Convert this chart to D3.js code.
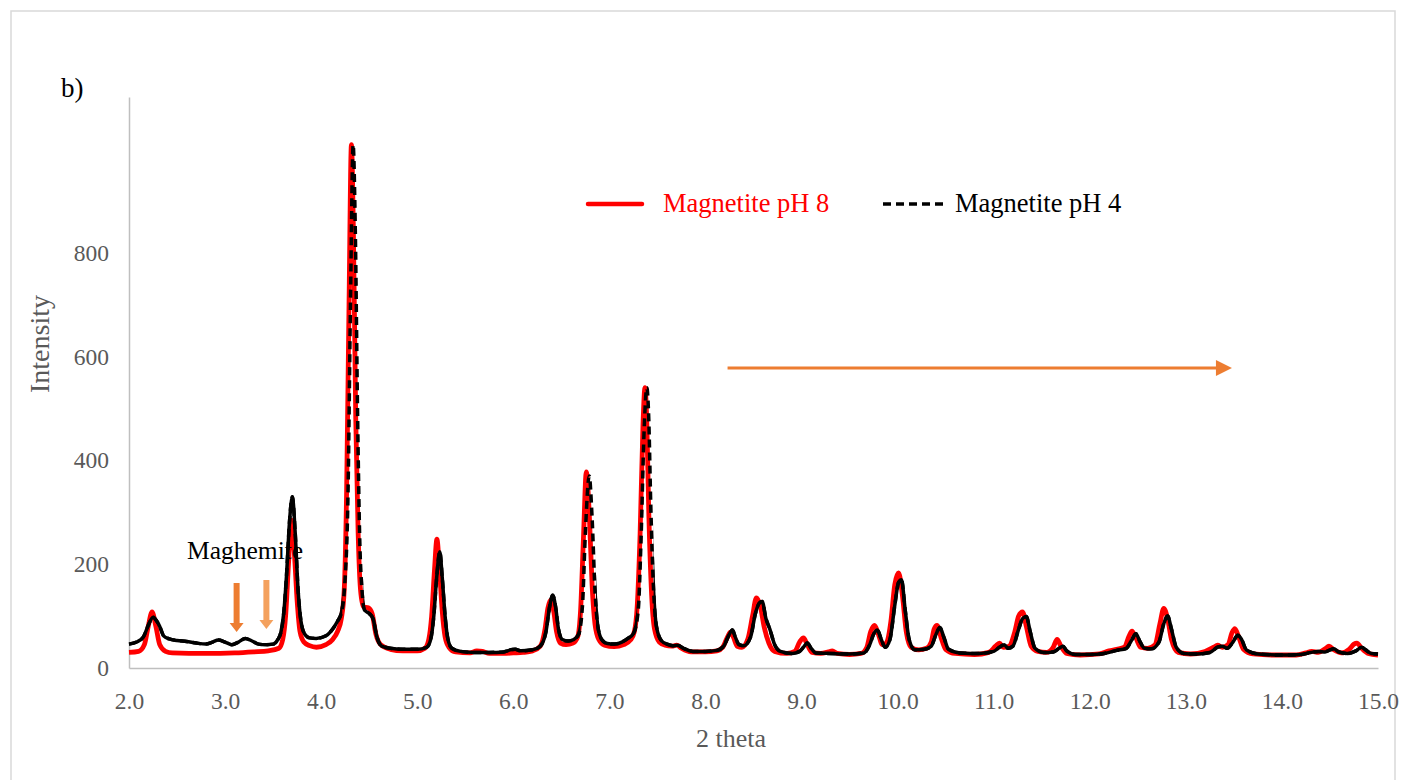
<!DOCTYPE html>
<html>
<head>
<meta charset="utf-8">
<script src="https://cdn.jsdelivr.net/npm/d3@7"></script>
<style>
  body { margin: 0; background: #fff; }
  svg { display: block; font-family: "Liberation Serif", "Times New Roman", serif; }
</style>
</head>
<body>
<div id="data"></div>
<script>

const ph8Theta = [2.00, 2.10, 2.16, 2.20, 2.24, 2.28, 2.32, 2.38, 2.45, 2.80, 3.10, 3.30, 3.45, 3.56, 3.60, 3.63, 3.66, 3.69, 3.72, 3.75, 3.78, 3.82, 3.88, 3.95, 4.05, 4.12, 4.17, 4.21, 4.24, 4.265, 4.29, 4.315, 4.335, 4.36, 4.385, 4.41, 4.44, 4.49, 4.53, 4.57, 4.62, 4.72, 4.85, 5.00, 5.08, 5.12, 5.15, 5.18, 5.205, 5.23, 5.26, 5.29, 5.33, 5.40, 5.55, 5.62, 5.68, 5.75, 5.90, 6.00, 6.10, 6.20, 6.28, 6.33, 6.36, 6.39, 6.42, 6.45, 6.49, 6.55, 6.62, 6.67, 6.70, 6.73, 6.76, 6.79, 6.82, 6.85, 6.89, 6.95, 7.05, 7.15, 7.22, 7.26, 7.29, 7.32, 7.35, 7.37, 7.39, 7.41, 7.44, 7.47, 7.52, 7.58, 7.65, 7.70, 7.75, 7.85, 8.00, 8.12, 8.18, 8.23, 8.26, 8.29, 8.33, 8.38, 8.44, 8.49, 8.53, 8.57, 8.61, 8.66, 8.72, 8.85, 8.93, 8.98, 9.02, 9.06, 9.11, 9.20, 9.28, 9.32, 9.37, 9.50, 9.62, 9.68, 9.72, 9.76, 9.80, 9.84, 9.88, 9.93, 9.97, 10.01, 10.05, 10.09, 10.14, 10.22, 10.30, 10.35, 10.38, 10.41, 10.45, 10.50, 10.60, 10.80, 10.95, 11.02, 11.06, 11.10, 11.16, 11.22, 11.26, 11.30, 11.34, 11.39, 11.46, 11.55, 11.62, 11.66, 11.70, 11.76, 11.90, 12.10, 12.20, 12.28, 12.36, 12.41, 12.44, 12.48, 12.53, 12.60, 12.68, 12.73, 12.77, 12.81, 12.85, 12.92, 13.05, 13.20, 13.29, 13.33, 13.38, 13.44, 13.48, 13.51, 13.55, 13.60, 13.70, 13.90, 14.15, 14.25, 14.31, 14.38, 14.45, 14.49, 14.54, 14.62, 14.70, 14.75, 14.78, 14.83, 14.90, 15.00];
const ph8Counts = [30, 32, 45, 80, 108, 80, 45, 32, 29, 28, 29, 31, 33, 38, 55, 100, 200, 285, 225, 130, 70, 50, 43, 40, 45, 55, 70, 95, 150, 340, 700, 1008, 850, 480, 260, 150, 118, 116, 105, 65, 45, 36, 33, 33, 38, 55, 100, 190, 248, 195, 110, 60, 40, 31, 29, 33, 32, 28, 28, 29, 30, 33, 42, 75, 115, 131, 110, 70, 48, 45, 48, 60, 110, 250, 378, 300, 160, 85, 55, 44, 41, 45, 54, 70, 120, 260, 470, 540, 470, 300, 140, 75, 50, 44, 42, 44, 38, 31, 31, 33, 40, 60, 69, 60, 42, 40, 55, 100, 135, 120, 80, 48, 32, 28, 32, 50, 58, 45, 30, 28, 31, 33, 28, 26, 28, 40, 70, 82, 65, 45, 48, 90, 160, 183, 140, 70, 40, 35, 38, 50, 75, 82, 60, 36, 28, 26, 30, 42, 48, 40, 42, 70, 100, 108, 80, 42, 32, 30, 40, 55, 42, 28, 25, 27, 33, 36, 40, 62, 71, 58, 40, 38, 45, 85, 115, 95, 55, 30, 27, 32, 40, 44, 40, 45, 68, 76, 60, 36, 27, 25, 25, 29, 32, 30, 37, 42, 35, 29, 36, 46, 48, 38, 28, 25];

const ph4Theta = [2.00, 2.08, 2.15, 2.20, 2.25, 2.29, 2.32, 2.36, 2.42, 2.50, 2.60, 2.70, 2.80, 2.87, 2.93, 3.00, 3.07, 3.14, 3.21, 3.28, 3.35, 3.42, 3.50, 3.55, 3.58, 3.61, 3.64, 3.67, 3.70, 3.73, 3.76, 3.79, 3.83, 3.88, 3.95, 4.05, 4.12, 4.17, 4.21, 4.245, 4.28, 4.305, 4.333, 4.355, 4.38, 4.40, 4.425, 4.45, 4.50, 4.54, 4.58, 4.63, 4.72, 4.85, 5.00, 5.10, 5.14, 5.17, 5.205, 5.235, 5.26, 5.29, 5.32, 5.36, 5.45, 5.60, 5.75, 5.90, 5.97, 6.02, 6.08, 6.20, 6.28, 6.34, 6.38, 6.41, 6.44, 6.47, 6.51, 6.57, 6.63, 6.68, 6.72, 6.75, 6.79, 6.82, 6.85, 6.88, 6.92, 6.98, 7.05, 7.13, 7.20, 7.25, 7.30, 7.33, 7.36, 7.39, 7.41, 7.43, 7.46, 7.49, 7.54, 7.60, 7.66, 7.71, 7.77, 7.87, 8.00, 8.12, 8.19, 8.24, 8.28, 8.31, 8.35, 8.40, 8.47, 8.52, 8.56, 8.59, 8.63, 8.67, 8.72, 8.78, 8.90, 8.98, 9.02, 9.06, 9.10, 9.15, 9.30, 9.50, 9.65, 9.71, 9.75, 9.79, 9.83, 9.87, 9.92, 9.97, 10.01, 10.04, 10.08, 10.12, 10.18, 10.28, 10.35, 10.40, 10.44, 10.48, 10.53, 10.65, 10.85, 11.00, 11.06, 11.11, 11.15, 11.20, 11.26, 11.30, 11.34, 11.38, 11.43, 11.52, 11.62, 11.68, 11.72, 11.76, 11.85, 12.00, 12.15, 12.28, 12.38, 12.44, 12.48, 12.52, 12.57, 12.64, 12.72, 12.77, 12.81, 12.85, 12.90, 12.98, 13.10, 13.25, 13.33, 13.38, 13.43, 13.49, 13.54, 13.58, 13.63, 13.75, 14.00, 14.20, 14.30, 14.38, 14.45, 14.50, 14.54, 14.59, 14.68, 14.77, 14.83, 14.87, 14.93, 15.00];
const ph4Counts = [46, 50, 60, 82, 98, 90, 80, 62, 56, 53, 51, 48, 46, 50, 54, 50, 45, 50, 57, 52, 46, 45, 46, 55, 68, 105, 180, 280, 330, 260, 150, 90, 65, 58, 57, 62, 75, 90, 106, 160, 340, 700, 1008, 850, 480, 260, 150, 112, 105, 95, 60, 42, 38, 36, 36, 40, 55, 95, 180, 224, 175, 100, 55, 38, 32, 30, 30, 31, 35, 36, 33, 35, 42, 70, 120, 140, 118, 75, 55, 52, 55, 65, 120, 260, 370, 290, 150, 80, 55, 47, 46, 50, 58, 66, 110, 250, 450, 540, 480, 320, 150, 80, 53, 46, 43, 44, 38, 32, 32, 34, 42, 62, 73, 60, 45, 43, 60, 105, 125, 128, 95, 75, 45, 32, 28, 32, 40, 48, 38, 29, 28, 27, 29, 45, 65, 73, 55, 40, 55, 120, 165, 170, 110, 55, 35, 36, 42, 65, 78, 60, 36, 29, 28, 32, 40, 45, 38, 42, 75, 95, 99, 70, 38, 30, 31, 38, 42, 33, 26, 26, 28, 34, 38, 55, 66, 52, 38, 37, 50, 85, 100, 75, 40, 28, 27, 30, 40, 42, 38, 50, 63, 55, 35, 27, 25, 26, 30, 32, 31, 35, 37, 31, 28, 33, 40, 35, 28, 27];

const xTicks = [2, 3, 4, 5, 6, 7, 8, 9, 10, 11, 12, 13, 14, 15];
const yTicks = [0, 200, 400, 600, 800, 1000];
const seriesNames = ['Magnetite pH 8', 'Magnetite pH 4'];
// windows (2 theta) where the pH 4 trace shows its dashes
const dashedZones = [[4.22, 4.44], [6.70, 6.86], [7.29, 7.46]];
const maghemiteMarks = [3.12, 3.43];

const w = 1403;
const h = 780;

const svg = d3.select('#data').append('svg').attr('width', w).attr('height', h);

svg.append('rect').attr('x', 11).attr('y', 11).attr('width', 1384).attr('height', 800)
    .attr('fill', '#fff').attr('stroke', '#d9d9d9').attr('stroke-width', 1.5);

const xScale = d3.scaleLinear().domain([2, 15]).range([129, 1378]);
const yScale = d3.scaleLinear().domain([0, 1100]).range([668, 97]);

const defs = svg.append('defs');
defs.append('clipPath').attr('id', 'tick1000')
    .append('rect').attr('x', 106).attr('y', 130).attr('width', 6).attr('height', 40);

const solidClip = defs.append('clipPath').attr('id', 'solidPart');
solidClip.append('rect').attr('x', 0).attr('y', yScale(70)).attr('width', w).attr('height', h);
const edges = [2].concat(...dashedZones).concat([15]);
for (let i = 0; i < edges.length; i += 2) {
    solidClip.append('rect').attr('x', i == 0 ? 0 : xScale(edges[i])).attr('y', 0)
        .attr('width', xScale(edges[i + 1]) - (i == 0 ? 0 : xScale(edges[i])) + (i == edges.length - 2 ? 50 : 0))
        .attr('height', h);
}

const xAxis = d3.axisBottom(xScale).tickValues(xTicks).tickSize(0).tickPadding(24).tickFormat(d3.format('.1f'));
const yAxis = d3.axisLeft(yScale).tickValues(yTicks).tickSize(0).tickPadding(20);

const gx = svg.append('g').attr('transform', 'translate(0,668)').call(xAxis);
const gy = svg.append('g').attr('transform', 'translate(129,0)').call(yAxis);
[gx, gy].forEach(g => {
    g.select('.domain').attr('stroke', '#bfbfbf').attr('stroke-width', 1.5);
    g.selectAll('text').attr('fill', '#595959').style('font-size', '23.5px')
        .style('font-family', '"Liberation Serif", "Times New Roman", serif');
});
gy.selectAll('.tick').filter(d => d == 1000).select('text').attr('clip-path', 'url(#tick1000)');

svg.append('text').attr('x', 731).attr('y', 747).attr('text-anchor', 'middle')
    .attr('fill', '#595959').style('font-size', '26px').text('2 theta');
svg.append('text').attr('transform', 'translate(49,344) rotate(-90)').attr('text-anchor', 'middle')
    .attr('fill', '#595959').style('font-size', '28px').text('Intensity');
svg.append('text').attr('x', 61).attr('y', 97).attr('fill', '#000').style('font-size', '27px').text('b)');

const line = d3.line().x(d => xScale(d[0])).y(d => yScale(d[1])).curve(d3.curveMonotoneX);
const ph8 = ph8Theta.map((t, i) => [t, ph8Counts[i]]);
const ph4 = ph4Theta.map((t, i) => [t, ph4Counts[i]]);

svg.append('path').datum(ph8).attr('d', line).attr('fill', 'none')
    .attr('stroke', '#ff0000').attr('stroke-width', 4.8).attr('stroke-linejoin', 'round');
svg.append('path').datum(ph4).attr('d', line).attr('fill', 'none')
    .attr('stroke', '#000').attr('stroke-width', 3.5).attr('stroke-dasharray', '8,5');
svg.append('path').datum(ph4).attr('d', line).attr('fill', 'none').attr('clip-path', 'url(#solidPart)')
    .attr('stroke', '#000').attr('stroke-width', 3.5).attr('stroke-linejoin', 'round');

// legend
const legend = svg.append('g');
legend.append('line').attr('x1', 588).attr('x2', 642).attr('y1', 204).attr('y2', 204)
    .attr('stroke', '#ff0000').attr('stroke-width', 4.5).attr('stroke-linecap', 'round');
legend.append('text').attr('x', 663).attr('y', 212).attr('fill', '#ff0000').style('font-size', '26.5px').text(seriesNames[0]);
legend.append('line').attr('x1', 883).attr('x2', 945).attr('y1', 204).attr('y2', 204)
    .attr('stroke', '#000').attr('stroke-width', 3.5).attr('stroke-dasharray', '8,5');
legend.append('text').attr('x', 955).attr('y', 212).attr('fill', '#000').style('font-size', '26.5px').text(seriesNames[1]);

// annotations
svg.append('text').attr('x', 187).attr('y', 559).attr('fill', '#000').style('font-size', '25.5px').text('Maghemite');
const arrowCols = ['#ed7d31', '#f4a15e'];
maghemiteMarks.forEach((m, i) => {
    const x = xScale(m);
    const top = i == 0 ? 583 : 580;
    const tip = i == 0 ? 632 : 629;
    svg.append('path')
        .attr('d', `M${x - 3},${top} L${x + 3},${top} L${x + 3},${tip - 9} L${x + 7},${tip - 9} L${x},${tip} L${x - 7},${tip - 9} L${x - 3},${tip - 9} Z`)
        .attr('fill', arrowCols[i]);
});

const ay = 368;
svg.append('line').attr('x1', xScale(8.23)).attr('x2', xScale(13.48) - 14).attr('y1', ay).attr('y2', ay)
    .attr('stroke', '#ed7d31').attr('stroke-width', 3);
svg.append('path')
    .attr('d', `M${xScale(13.48)},${ay} L${xScale(13.48) - 16},${ay - 8} L${xScale(13.48) - 16},${ay + 8} Z`)
    .attr('fill', '#ed7d31');

</script>
</body>
</html>
